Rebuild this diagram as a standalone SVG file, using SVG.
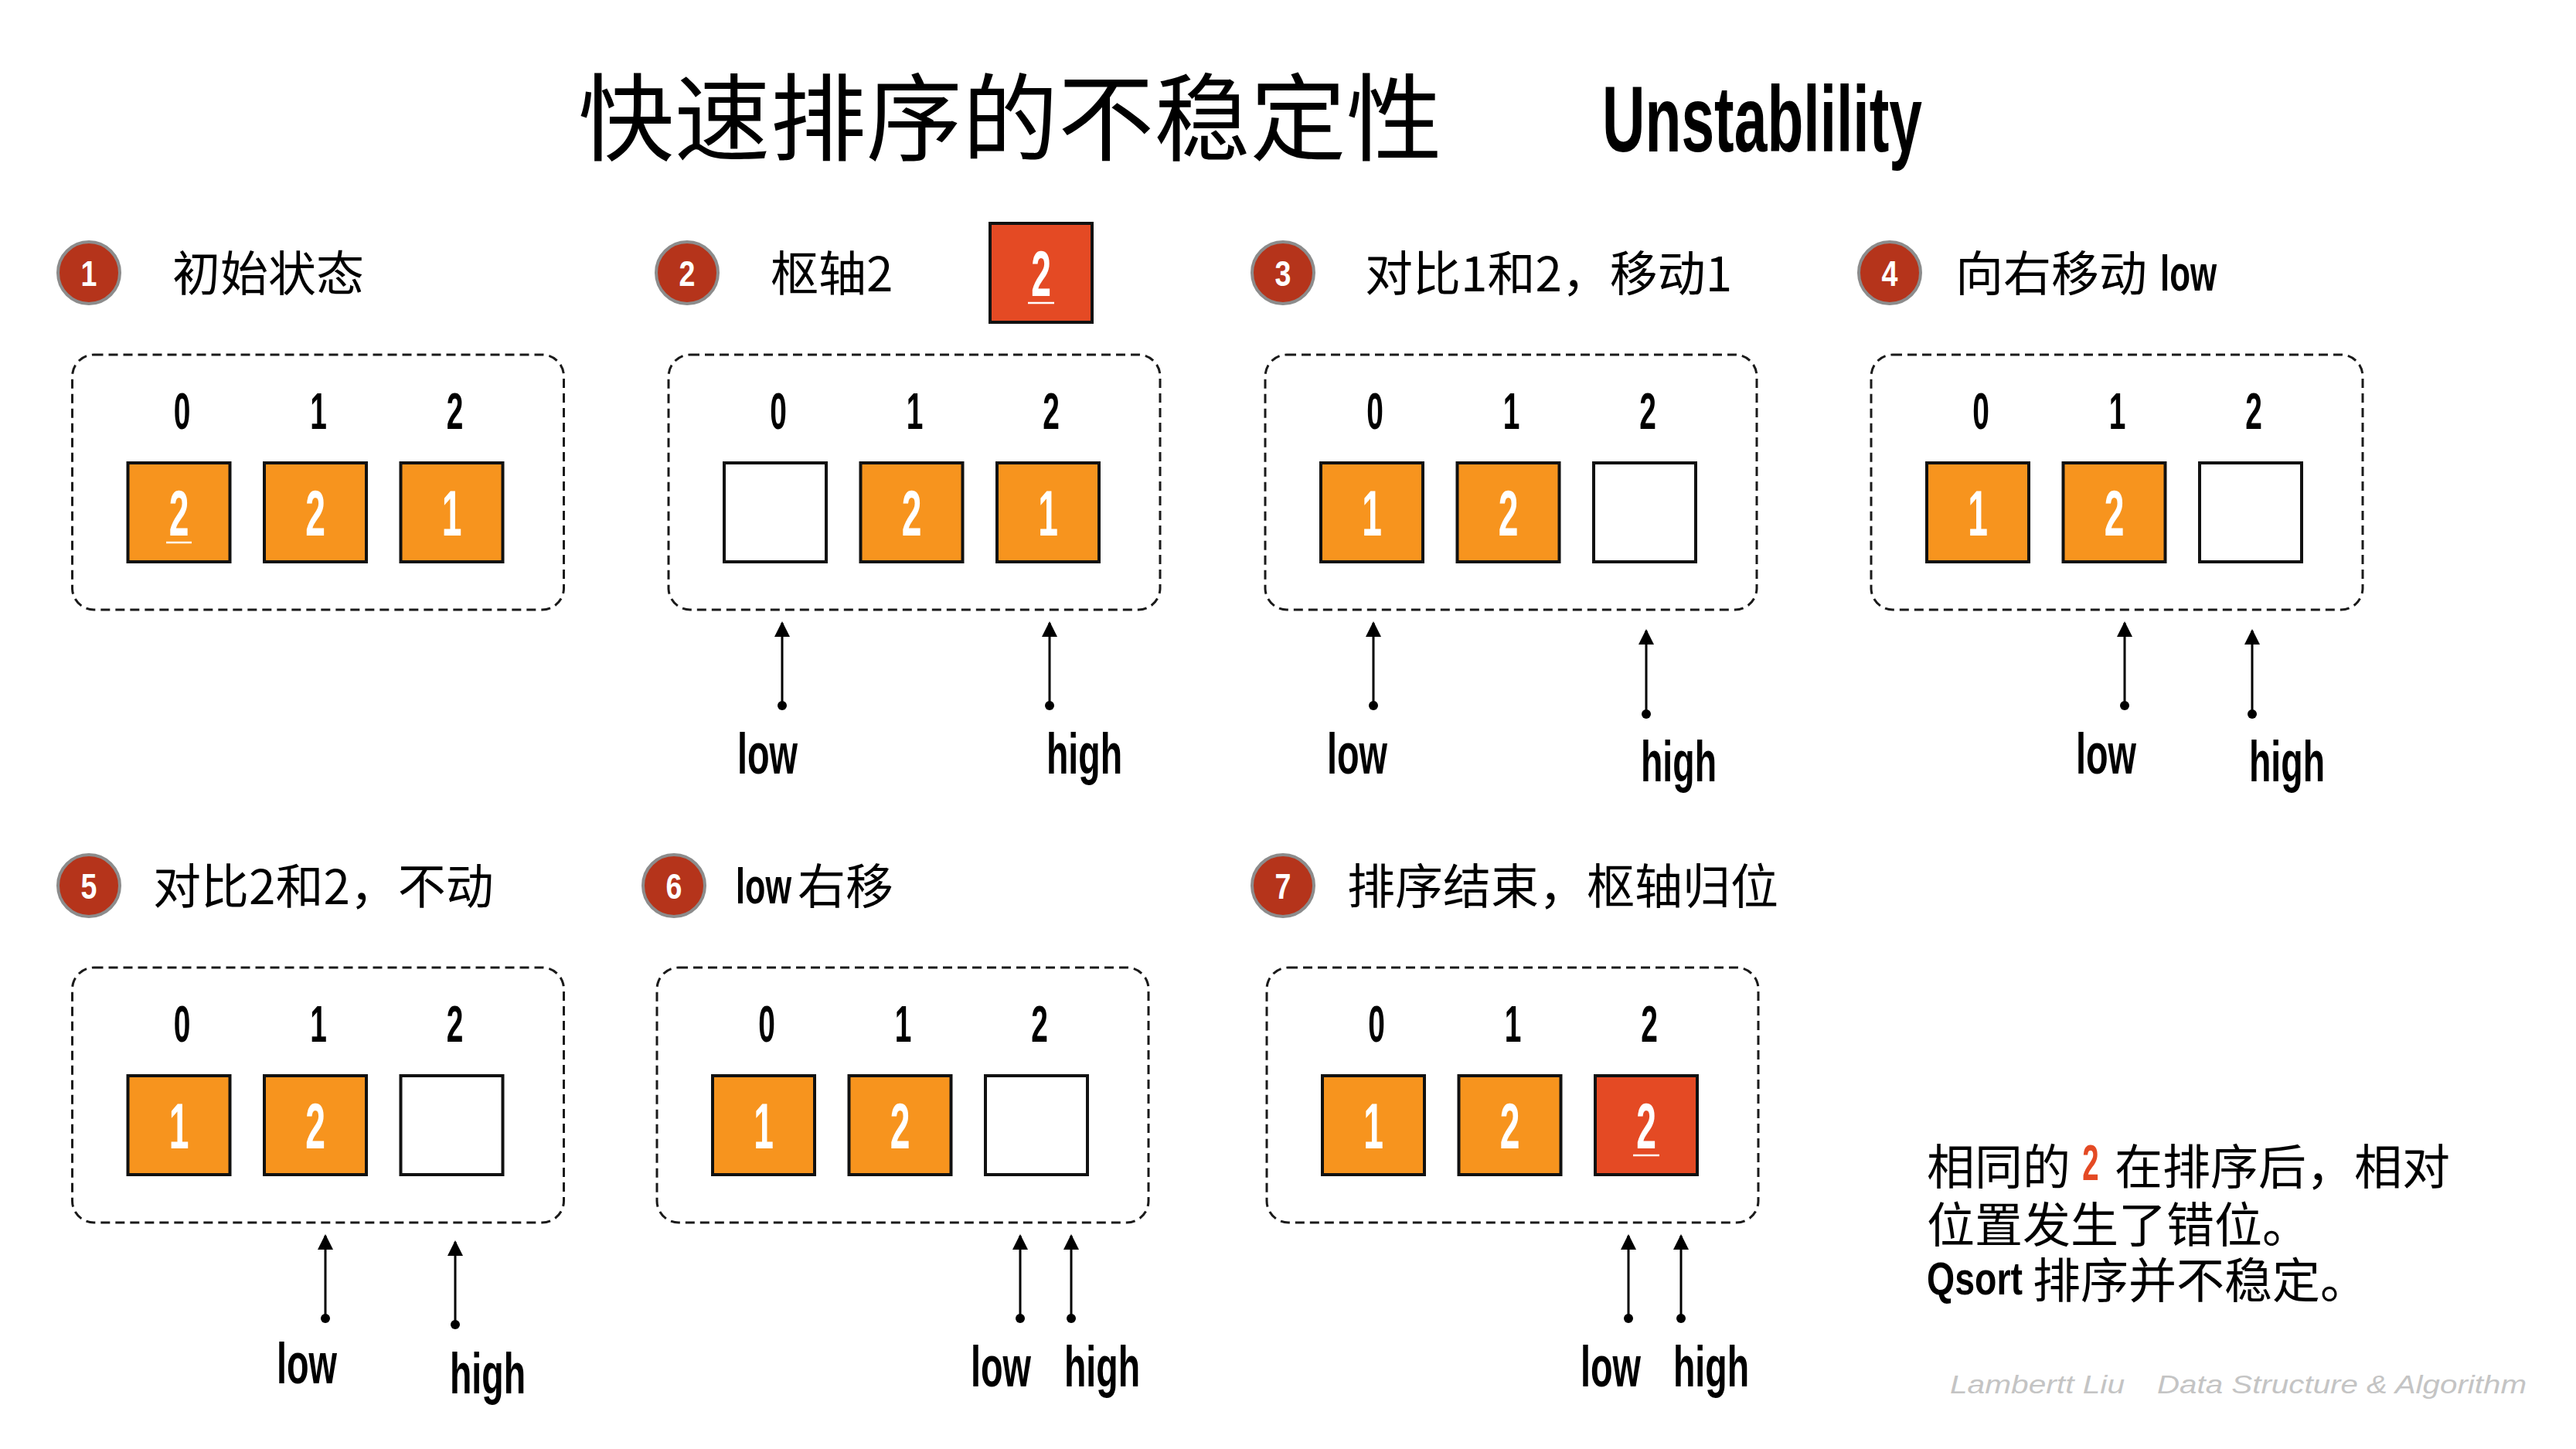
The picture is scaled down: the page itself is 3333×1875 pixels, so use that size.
<svg xmlns="http://www.w3.org/2000/svg" width="3333" height="1875" viewBox="0 0 3333 1875">
<style>
.cjk{font-family:"Noto Sans CJK SC","Noto Sans CJK JP",sans-serif;fill:#000}
.hd{font-size:62px}
.box{fill:none;stroke:#1a1a1a;stroke-width:3;stroke-dasharray:12 7}
.cell{stroke:#111;stroke-width:4}
.or{fill:#f7941e}.rd{fill:#e44a24}.wh{fill:#fff}
.cd{font-family:"Liberation Sans",Arial,sans-serif;font-weight:700;text-anchor:middle;transform-box:fill-box;transform-origin:center}
.num{font-size:84px;fill:#fff;transform:scaleX(0.55)}
.idx{font-size:67px;fill:#000;transform:scaleX(0.58)}
.cn{font-size:47px;fill:#fff;transform:scaleX(0.8)}
.circ{fill:#b5341b;stroke:#8c8c8c;stroke-width:4}
.ptr{font-family:"Liberation Sans",Arial,sans-serif;font-weight:700;font-size:74px;fill:#000;text-anchor:middle}
.arr{stroke:#000;stroke-width:3;fill:none;marker-end:url(#ah)}
.dot{fill:#000}
.ul{stroke:#fff;stroke-width:2.5}
</style>
<defs>
<marker id="ah" viewBox="0 0 20 20" refX="18" refY="10" markerWidth="20" markerHeight="20" orient="auto" markerUnits="userSpaceOnUse">
<path d="M0,0 L20,10 L0,20 z" fill="#000"/>
</marker>
</defs>
<rect width="3333" height="1875" fill="#fff"/>

<g id="title">
<text class="cjk" x="748" y="198" font-size="123" textLength="1118" lengthAdjust="spacingAndGlyphs">快速排序的不稳定性</text>
<text x="2073" y="196" font-family="Liberation Sans, Arial, sans-serif" font-weight="700" font-size="120" textLength="414" lengthAdjust="spacingAndGlyphs">Unstablility</text>
</g>

<!-- Panel 1 -->
<g id="step1">
<circle class="circ" cx="115" cy="353" r="40"/>
<text class="cd cn" x="115" y="370">1</text>
<text class="cjk hd" x="223" y="377">初始状态</text>
<rect class="box" x="93.5" y="459" width="636" height="330" rx="28"/>
<text class="cd idx" x="235.5" y="555">0</text>
<text class="cd idx" x="412" y="555">1</text>
<text class="cd idx" x="588.5" y="555">2</text>
<rect class="cell or" x="165.5" y="599" width="132" height="128"/>
<rect class="cell or" x="342" y="599" width="132" height="128"/>
<rect class="cell or" x="518.5" y="599" width="132" height="128"/>
<text class="cd num" x="231.5" y="693">2</text>
<line class="ul" x1="215" y1="702" x2="248" y2="702"/>
<text class="cd num" x="408" y="693">2</text>
<text class="cd num" x="584.5" y="693">1</text>
</g>

<!-- Panel 2 -->
<g id="step2">
<circle class="circ" cx="889" cy="353" r="40"/>
<text class="cd cn" x="889" y="370">2</text>
<text class="cjk hd" x="997" y="377">枢轴2</text>
<rect class="cell rd" x="1281" y="289" width="132" height="128"/>
<text class="cd num" x="1347" y="383">2</text>
<line class="ul" x1="1330" y1="392" x2="1364" y2="392"/>
<rect class="box" x="865" y="459" width="636" height="330" rx="28"/>
<text class="cd idx" x="1007" y="555">0</text>
<text class="cd idx" x="1183.5" y="555">1</text>
<text class="cd idx" x="1360" y="555">2</text>
<rect class="cell wh" x="937" y="599" width="132" height="128"/>
<rect class="cell or" x="1113.5" y="599" width="132" height="128"/>
<rect class="cell or" x="1290" y="599" width="132" height="128"/>
<text class="cd num" x="1179.5" y="693">2</text>
<text class="cd num" x="1356" y="693">1</text>
<text class="ptr" x="993" y="1001" textLength="78" lengthAdjust="spacingAndGlyphs">low</text>
<text class="ptr" x="1403" y="1001" textLength="98" lengthAdjust="spacingAndGlyphs">high</text>
</g>

<!-- Panel 3 -->
<g id="step3">
<circle class="circ" cx="1660" cy="353" r="40"/>
<text class="cd cn" x="1660" y="370">3</text>
<text class="cjk hd" x="1766" y="377">对比1和2，移动1</text>
<rect class="box" x="1637" y="459" width="636" height="330" rx="28"/>
<text class="cd idx" x="1779" y="555">0</text>
<text class="cd idx" x="1955.5" y="555">1</text>
<text class="cd idx" x="2132" y="555">2</text>
<rect class="cell or" x="1709" y="599" width="132" height="128"/>
<rect class="cell or" x="1885.5" y="599" width="132" height="128"/>
<rect class="cell wh" x="2062" y="599" width="132" height="128"/>
<text class="cd num" x="1775" y="693">1</text>
<text class="cd num" x="1951.5" y="693">2</text>
<text class="ptr" x="1756" y="1001" textLength="78" lengthAdjust="spacingAndGlyphs">low</text>
<text class="ptr" x="2172" y="1011" textLength="98" lengthAdjust="spacingAndGlyphs">high</text>
</g>

<!-- Panel 4 -->
<g id="step4">
<circle class="circ" cx="2445" cy="353" r="40"/>
<text class="cd cn" x="2445" y="370">4</text>
<text class="cjk hd" x="2530" y="377">向右移动</text>
<text x="2795" y="376" font-family="Liberation Sans, Arial, sans-serif" font-weight="700" font-size="64" textLength="73" lengthAdjust="spacingAndGlyphs">low</text>
<rect class="box" x="2421" y="459" width="636" height="330" rx="28"/>
<text class="cd idx" x="2563" y="555">0</text>
<text class="cd idx" x="2739.5" y="555">1</text>
<text class="cd idx" x="2916" y="555">2</text>
<rect class="cell or" x="2493" y="599" width="132" height="128"/>
<rect class="cell or" x="2669.5" y="599" width="132" height="128"/>
<rect class="cell wh" x="2846" y="599" width="132" height="128"/>
<text class="cd num" x="2559" y="693">1</text>
<text class="cd num" x="2735.5" y="693">2</text>
<text class="ptr" x="2725" y="1001" textLength="78" lengthAdjust="spacingAndGlyphs">low</text>
<text class="ptr" x="2959" y="1011" textLength="98" lengthAdjust="spacingAndGlyphs">high</text>
</g>

<!-- Panel 5 -->
<g id="step5">
<circle class="circ" cx="115" cy="1146" r="40"/>
<text class="cd cn" x="115" y="1163">5</text>
<text class="cjk hd" x="198" y="1170">对比2和2，不动</text>
<rect class="box" x="93.5" y="1252" width="636" height="330" rx="28"/>
<text class="cd idx" x="235.5" y="1348">0</text>
<text class="cd idx" x="412" y="1348">1</text>
<text class="cd idx" x="588.5" y="1348">2</text>
<rect class="cell or" x="165.5" y="1392" width="132" height="128"/>
<rect class="cell or" x="342" y="1392" width="132" height="128"/>
<rect class="cell wh" x="518.5" y="1392" width="132" height="128"/>
<text class="cd num" x="231.5" y="1486">1</text>
<text class="cd num" x="408" y="1486">2</text>
<text class="ptr" x="397" y="1790" textLength="78" lengthAdjust="spacingAndGlyphs">low</text>
<text class="ptr" x="631" y="1803" textLength="98" lengthAdjust="spacingAndGlyphs">high</text>
</g>

<!-- Panel 6 -->
<g id="step6">
<circle class="circ" cx="872" cy="1146" r="40"/>
<text class="cd cn" x="872" y="1163">6</text>
<text x="952" y="1169" font-family="Liberation Sans, Arial, sans-serif" font-weight="700" font-size="64" textLength="72" lengthAdjust="spacingAndGlyphs">low</text>
<text class="cjk hd" x="1032" y="1170">右移</text>
<rect class="box" x="850" y="1252" width="636" height="330" rx="28"/>
<text class="cd idx" x="992" y="1348">0</text>
<text class="cd idx" x="1168.5" y="1348">1</text>
<text class="cd idx" x="1345" y="1348">2</text>
<rect class="cell or" x="922" y="1392" width="132" height="128"/>
<rect class="cell or" x="1098.5" y="1392" width="132" height="128"/>
<rect class="cell wh" x="1275" y="1392" width="132" height="128"/>
<text class="cd num" x="988" y="1486">1</text>
<text class="cd num" x="1164.5" y="1486">2</text>
<text class="ptr" x="1295" y="1794" textLength="78" lengthAdjust="spacingAndGlyphs">low</text>
<text class="ptr" x="1426" y="1794" textLength="98" lengthAdjust="spacingAndGlyphs">high</text>
</g>

<!-- Panel 7 -->
<g id="step7">
<circle class="circ" cx="1660" cy="1146" r="40"/>
<text class="cd cn" x="1660" y="1163">7</text>
<text class="cjk hd" x="1743" y="1170">排序结束，枢轴归位</text>
<rect class="box" x="1639" y="1252" width="636" height="330" rx="28"/>
<text class="cd idx" x="1781" y="1348">0</text>
<text class="cd idx" x="1957.5" y="1348">1</text>
<text class="cd idx" x="2134" y="1348">2</text>
<rect class="cell or" x="1711" y="1392" width="132" height="128"/>
<rect class="cell or" x="1887.5" y="1392" width="132" height="128"/>
<rect class="cell rd" x="2064" y="1392" width="132" height="128"/>
<text class="cd num" x="1777" y="1486">1</text>
<text class="cd num" x="1953.5" y="1486">2</text>
<text class="cd num" x="2130" y="1486">2</text>
<line class="ul" x1="2113" y1="1495" x2="2147" y2="1495"/>
<text class="ptr" x="2084" y="1794" textLength="78" lengthAdjust="spacingAndGlyphs">low</text>
<text class="ptr" x="2214" y="1794" textLength="98" lengthAdjust="spacingAndGlyphs">high</text>
</g>

<g id="connectors">
<line class="arr" x1="1012" y1="913" x2="1012" y2="806"/><circle class="dot" cx="1012" cy="913" r="6"/>
<line class="arr" x1="1358" y1="913" x2="1358" y2="806"/><circle class="dot" cx="1358" cy="913" r="6"/>
<line class="arr" x1="1777" y1="913" x2="1777" y2="806"/><circle class="dot" cx="1777" cy="913" r="6"/>
<line class="arr" x1="2130" y1="924" x2="2130" y2="816"/><circle class="dot" cx="2130" cy="924" r="6"/>
<line class="arr" x1="2749" y1="913" x2="2749" y2="806"/><circle class="dot" cx="2749" cy="913" r="6"/>
<line class="arr" x1="2914" y1="924" x2="2914" y2="816"/><circle class="dot" cx="2914" cy="924" r="6"/>
<line class="arr" x1="421" y1="1706" x2="421" y2="1599"/><circle class="dot" cx="421" cy="1706" r="6"/>
<line class="arr" x1="589" y1="1714" x2="589" y2="1607"/><circle class="dot" cx="589" cy="1714" r="6"/>
<line class="arr" x1="1320" y1="1706" x2="1320" y2="1599"/><circle class="dot" cx="1320" cy="1706" r="6"/>
<line class="arr" x1="1386" y1="1706" x2="1386" y2="1599"/><circle class="dot" cx="1386" cy="1706" r="6"/>
<line class="arr" x1="2107" y1="1706" x2="2107" y2="1599"/><circle class="dot" cx="2107" cy="1706" r="6"/>
<line class="arr" x1="2175" y1="1706" x2="2175" y2="1599"/><circle class="dot" cx="2175" cy="1706" r="6"/>
</g>

<g id="note">
<text class="cjk hd" x="2493" y="1533">相同的</text>
<text class="cd" x="2705" y="1527" font-size="64" fill="#e44a24" style="transform:scaleX(0.6)">2</text>
<text class="cjk hd" x="2736" y="1533">在排序后，相对</text>
<text class="cjk hd" x="2493" y="1608">位置发生了错位。</text>
<text x="2493" y="1675" font-family="Liberation Sans, Arial, sans-serif" font-weight="700" font-size="60" textLength="124" lengthAdjust="spacingAndGlyphs">Qsort</text>
<text class="cjk hd" x="2630" y="1680">排序并不稳定。</text>
</g>

<g id="watermark" font-family="Liberation Sans, Arial, sans-serif" font-style="italic" font-size="34" fill="#c4c4c4">
<text x="2523" y="1803" textLength="226" lengthAdjust="spacingAndGlyphs">Lambertt Liu</text>
<text x="2791" y="1803" textLength="478" lengthAdjust="spacingAndGlyphs">Data Structure &amp; Algorithm</text>
</g>
</svg>
